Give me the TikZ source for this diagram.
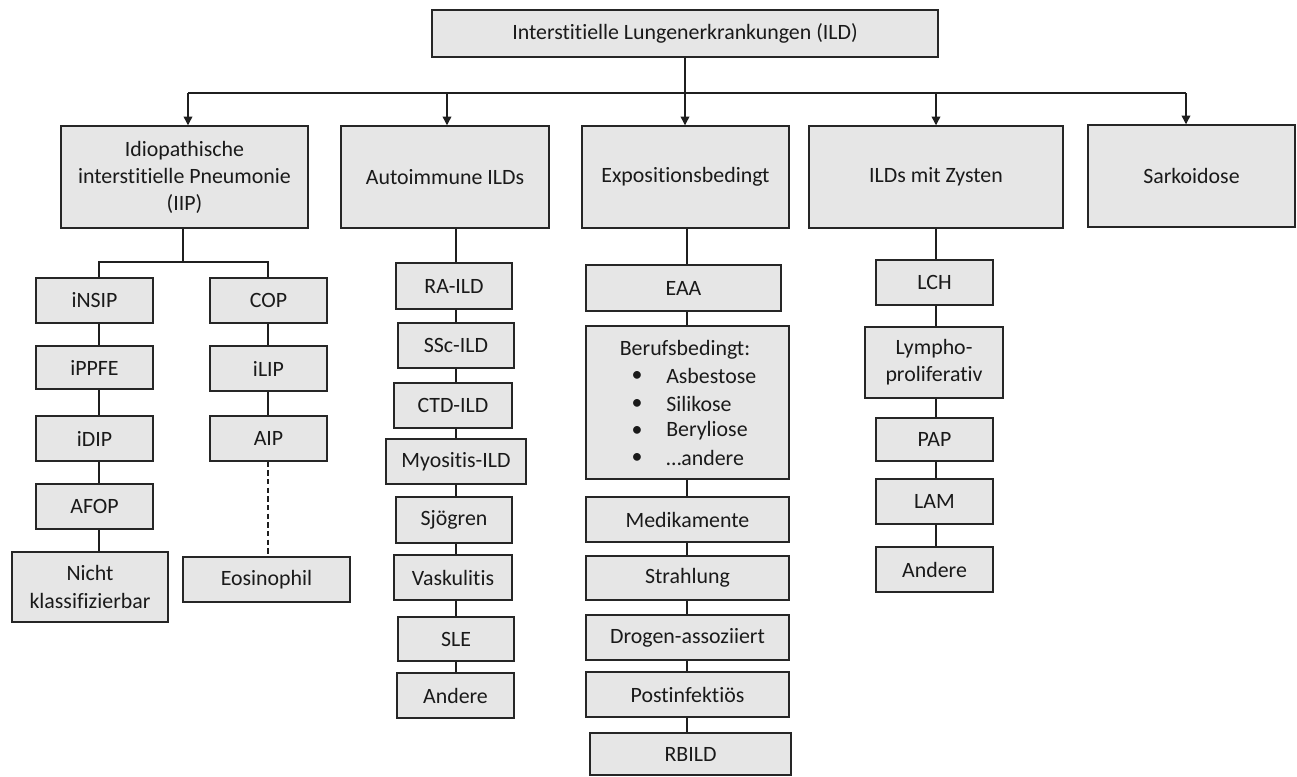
\documentclass[tikz,border=0pt]{standalone}
\usepackage{fontspec}
\setmainfont{Carlito}[Ligatures=NoCommon]
\usetikzlibrary{arrows.meta}
\definecolor{boxfill}{HTML}{E6E6E6}
\definecolor{boxline}{HTML}{262626}
\definecolor{txt}{HTML}{1A1A1A}
\tikzset{
  box/.style={draw=boxline, fill=boxfill, line width=1.1pt, inner sep=0pt, align=center, text=txt, font=\fontsize{16.4}{20.3}\selectfont},
  conn/.style={draw=black!88, line width=1pt},
  arr/.style={conn, -{Triangle[width=6.5pt,length=6.5pt]}},
  dashconn/.style={conn, dash pattern=on 4pt off 2.5pt},
  lbl/.style={inner sep=0pt, text=txt, font=\fontsize{16.4}{20.3}\selectfont}
}
\newcommand\mybox[6]{\node[box, minimum width={(#4-#2)*0.75pt}, minimum height={(#5-#3)*0.75pt}] (#1) at ({(#2+#4)/2},{(#3+#5)/2}) {#6};}
\begin{document}
\begin{tikzpicture}[x=0.75pt, y=-0.75pt]
\useasboundingbox (0,0) rectangle (1297,776);
% top
\mybox{top}{432}{10}{938}{57}{Interstitielle Lungenerkrankungen (ILD)}
% level 1
\mybox{iip}{61}{126}{308}{228}{Idiopathische\\interstitielle Pneumonie\\(IIP)}
\mybox{autoimm}{341}{126}{549}{228}{Autoimmune ILDs}
\mybox{expo}{582}{126}{789}{228}{Expositionsbedingt}
\mybox{zyst}{809}{126}{1063}{228}{ILDs mit Zysten}
\mybox{sark}{1088}{125}{1295}{227}{Sarkoidose}
% IIP left
\mybox{insip}{36}{278}{153}{323}{iNSIP}
\mybox{ippfe}{36}{346}{153}{389}{iPPFE}
\mybox{idip}{36}{416}{153}{461}{iDIP}
\mybox{afop}{36}{484}{153}{529}{AFOP}
\mybox{nicht}{12}{552}{168}{622}{Nicht\\klassifizierbar}
% IIP right
\mybox{cop}{210}{278}{327}{323}{COP}
\mybox{ilip}{210}{346}{327}{391}{iLIP}
\mybox{aip}{210}{416}{327}{461}{AIP}
\mybox{eos}{183}{557}{350}{602}{Eosinophil}
% autoimmune
\mybox{raild}{396}{263}{512}{309}{RA-ILD}
\mybox{sscild}{398}{323}{514}{368}{SSc-ILD}
\mybox{ctdild}{394}{383}{512}{428}{CTD-ILD}
\mybox{myo}{386}{439}{526}{484}{Myositis-ILD}
\mybox{sjo}{396}{497}{512}{543}{Sjögren}
\mybox{vask}{394}{555}{512}{600}{Vaskulitis}
\mybox{sle}{398}{617}{514}{661}{SLE}
\mybox{andA}{397}{673}{514}{718}{Andere}
% exposition
\mybox{eaa}{586}{265}{781}{311}{EAA}
\mybox{beruf}{586}{326}{789}{479}{}
\mybox{medi}{586}{497}{789}{542}{Medikamente}
\mybox{strahl}{586}{556}{789}{600}{Strahlung}
\mybox{drog}{586}{615}{789}{660}{Drogen-assoziiert}
\mybox{post}{586}{672}{789}{717}{Postinfektiös}
\mybox{rbild}{590}{733}{791}{775}{RBILD}
\node[lbl] (berufT) at (685,350) {Berufsbedingt:};
\node[lbl] (bu1) at (637,376) {•};
\node[lbl] (bu2) at (637,404) {•};
\node[lbl] (bu3) at (637,431) {•};
\node[lbl] (bu4) at (637,458) {•};
\node[lbl, anchor=west] (it1) at (666,376) {Asbestose};
\node[lbl, anchor=west] (it2) at (666,404) {Silikose};
\node[lbl, anchor=west] (it3) at (666,431) {Beryliose};
\node[lbl, anchor=west] (it4) at (666,458) {…andere};
% zysten
\mybox{lch}{876}{260}{993}{305}{LCH}
\mybox{lympho}{865}{327}{1003}{398}{Lympho-\\proliferativ}
\mybox{pap}{876}{418}{993}{461}{PAP}
\mybox{lam}{876}{479}{993}{524}{LAM}
\mybox{andZ}{876}{547}{993}{592}{Andere}
% connectors top level
\coordinate (b1) at (188,93);
\coordinate (b2) at (447,93);
\coordinate (b4) at (936,93);
\coordinate (b5) at (1186,93);
\draw[conn] (b1) -- (b5);
\draw[arr] (top.south) -- (top.south |- expo.north);
\draw[arr] (b1) -- (b1 |- iip.north);
\draw[arr] (b2) -- (b2 |- autoimm.north);
\draw[arr] (b4) -- (b4 |- zyst.north);
\draw[arr] (b5) -- (b5 |- sark.north);
% IIP
\coordinate (k) at (183,262);
\coordinate (c1) at (99,262);
\coordinate (c2) at (268,262);
\draw[conn] (k |- iip.south) -- (k);
\draw[conn] (c1 |- insip.north) -- (c1) -- (c2) -- (c2 |- cop.north);
\draw[conn] (c1 |- insip.south) -- (c1 |- ippfe.north);
\draw[conn] (c1 |- ippfe.south) -- (c1 |- idip.north);
\draw[conn] (c1 |- idip.south) -- (c1 |- afop.north);
\draw[conn] (c1 |- afop.south) -- (c1 |- nicht.north);
\draw[conn] (c2 |- cop.south) -- (c2 |- ilip.north);
\draw[conn] (c2 |- ilip.south) -- (c2 |- aip.north);
\draw[dashconn] (c2 |- aip.south) -- (c2 |- eos.north);
% autoimmune
\coordinate (c3) at (456,0);
\draw[conn] (c3 |- autoimm.south) -- (c3 |- raild.north);
\draw[conn] (c3 |- raild.south) -- (c3 |- sscild.north);
\draw[conn] (c3 |- sscild.south) -- (c3 |- ctdild.north);
\draw[conn] (c3 |- ctdild.south) -- (c3 |- myo.north);
\draw[conn] (c3 |- myo.south) -- (c3 |- sjo.north);
\draw[conn] (c3 |- sjo.south) -- (c3 |- vask.north);
\draw[conn] (c3 |- vask.south) -- (c3 |- sle.north);
\draw[conn] (c3 |- sle.south) -- (c3 |- andA.north);
% exposition
\coordinate (c4) at (687,0);
\draw[conn] (c4 |- expo.south) -- (c4 |- eaa.north);
\draw[conn] (c4 |- eaa.south) -- (c4 |- beruf.north);
\draw[conn] (c4 |- beruf.south) -- (c4 |- medi.north);
\draw[conn] (c4 |- medi.south) -- (c4 |- strahl.north);
\draw[conn] (c4 |- strahl.south) -- (c4 |- drog.north);
\draw[conn] (c4 |- drog.south) -- (c4 |- post.north);
\draw[conn] (c4 |- post.south) -- (c4 |- rbild.north);
% zysten
\coordinate (c5) at (936,0);
\draw[conn] (c5 |- zyst.south) -- (c5 |- lch.north);
\draw[conn] (c5 |- lch.south) -- (c5 |- lympho.north);
\draw[conn] (c5 |- lympho.south) -- (c5 |- pap.north);
\draw[conn] (c5 |- pap.south) -- (c5 |- lam.north);
\draw[conn] (c5 |- lam.south) -- (c5 |- andZ.north);
\end{tikzpicture}
\end{document}
